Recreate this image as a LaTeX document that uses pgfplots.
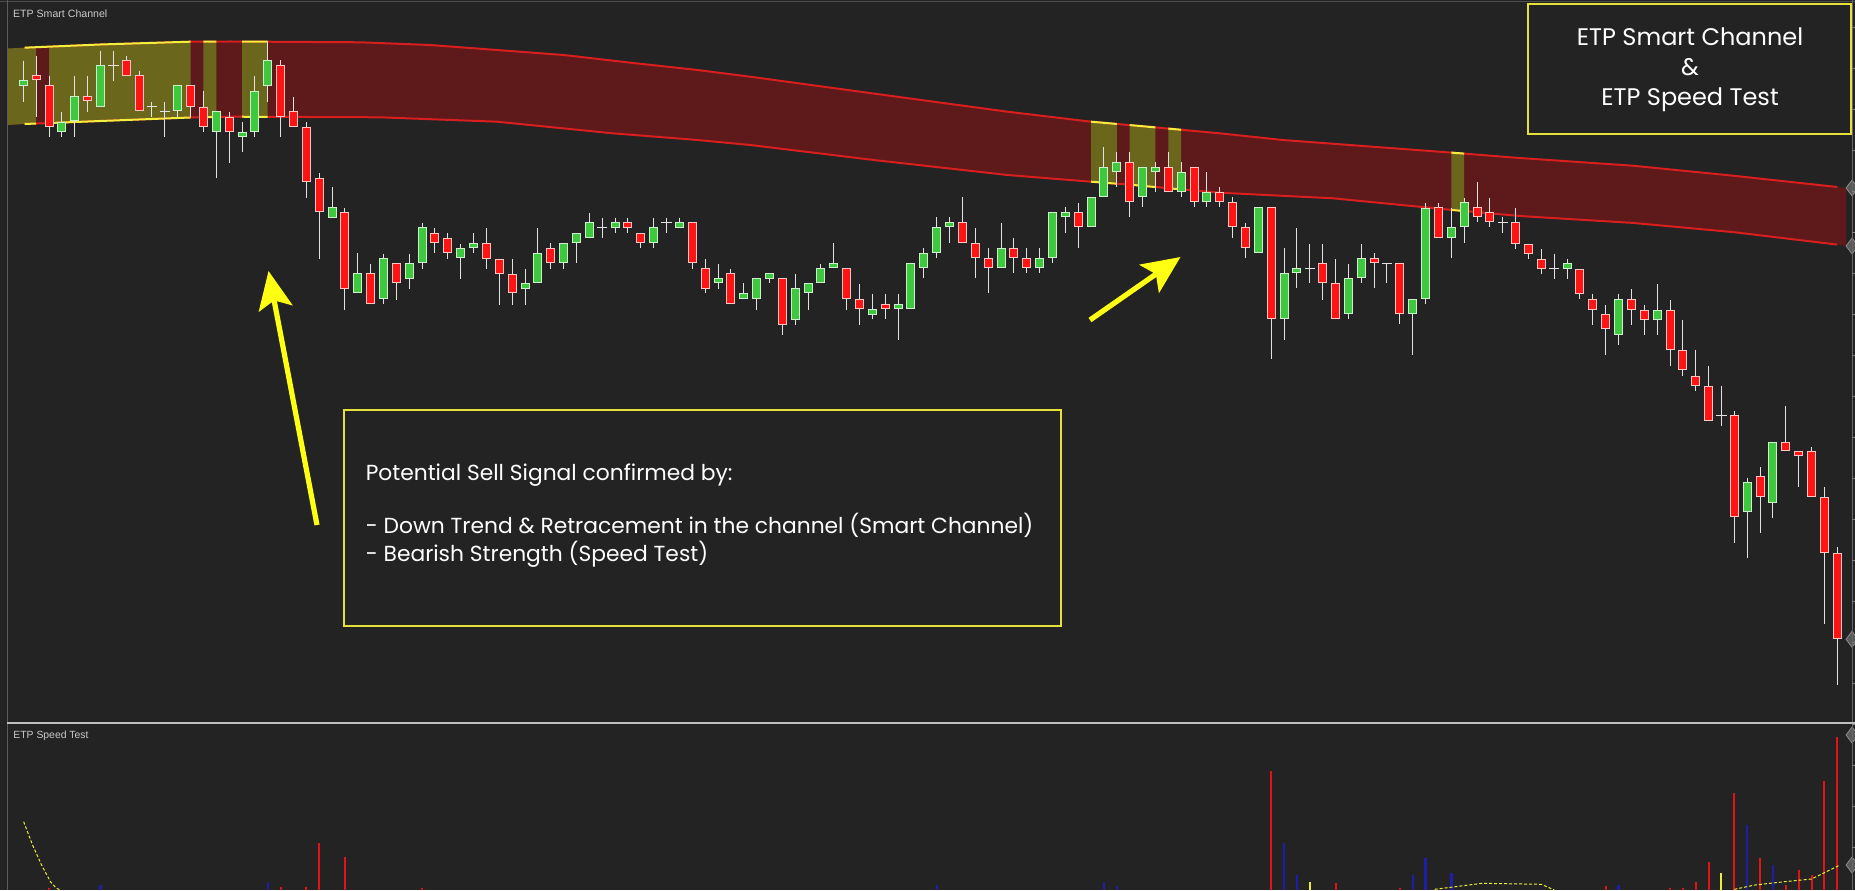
\documentclass[border=0pt]{standalone}
\usepackage{fontspec}
\setmainfont{Liberation Sans}
\newfontfamily\gothic{Poppins}
\usepackage{pgfplots}
\pgfplotsset{compat=1.18}
\usepackage{pgfplotstable}
\usepgfplotslibrary{fillbetween}
\usetikzlibrary{arrows.meta}

\definecolor{bg}{HTML}{232323}
\definecolor{candG}{HTML}{3EC83E}
\definecolor{candGb}{HTML}{CDEFCD}
\definecolor{candR}{HTML}{FF1414}
\definecolor{candRb}{HTML}{FFC4C4}
\definecolor{wick}{HTML}{E2E2E2}
\definecolor{bandR}{HTML}{5E1A1B}
\definecolor{bandY}{HTML}{6A671D}
\definecolor{lineR}{HTML}{D81E1E}
\definecolor{lineY}{HTML}{F2F03C}
\definecolor{boxY}{HTML}{E4E238}
\definecolor{spR}{HTML}{E01414}
\definecolor{spB}{HTML}{1E1EA8}
\definecolor{spY}{HTML}{ECEC3A}
\definecolor{arrowY}{HTML}{FFFF14}
\definecolor{lbl}{HTML}{CACACA}

% channel (x = candle index, y = screen level, top = 0)
\pgfplotstableread{
x y
-1.2 48.5
0.1 47.7
6.0 44.5
13.0 41.7
16.1 41.5
26.2 42.3
31.6 45
42.0 55
47.2 62.7
52.4 70
56.5 76.7
67.9 96.7
76.5 111.7
83.0 121.7
86.8 126
93.0 133.3
97.9 140
111.1 152.7
116.3 158
125.1 165.7
132.9 175.7
141.0 187
141.7 188
}\chanU
\pgfplotstableread{
x y
-1.2 125
0.1 124
6.0 121
13.0 117.5
16.1 116.7
27.7 117.3
36.8 121.7
45.8 133.3
52.4 140
56.5 145
66.1 160
76.5 175
83.0 181.7
86.3 185
89.9 189.3
93.0 192.7
101.8 198.3
111.1 210
116.3 216
125.1 222.9
132.9 232.1
141.0 244.6
141.7 246
}\chanL

% candles: x, wick top, wick bottom, body top, body bottom
\pgfplotstableread{
x hi lo bt bb
0 60.7 101.7 80.3 85.7
3 112.3 136.7 122 131.7
4 76 136.7 96.3 120.7
6 50.7 106.7 65.3 106.7
12 85.3 116.7 85.3 111.3
15 111.3 178.3 111.3 131.7
17 122 151.7 131.7 136.7
18 76 136.7 90.7 131.7
19 40.7 101.7 60.3 85.7
24 187.3 217.7 207.3 217.7
26 253.3 293.3 273.3 293.3
28 254 304.3 258.3 299.3
30 254 288.7 263.3 278.7
31 222.7 268.7 227.3 263.3
34 244 279 248.3 258.3
35 233.3 253.3 243.3 248.3
39 268.7 305 283.3 288.7
40 227.7 283.3 253.3 283.3
42 243.3 268.7 243.3 263.3
43 233.3 263.3 233.3 243.3
44 212.7 238.3 222.3 238.3
46 217.7 233.3 222.3 227.7
49 217.7 248.3 227.3 243.3
51 217.7 227.7 222.3 227.7
54 264 288.7 278.3 283.3
56 283.3 299.3 293.3 299.3
57 278.3 310 278.3 299.3
58 273.3 283.3 273.3 278.7
60 274 325 288.3 320
61 283.3 310 283.3 293.3
62 264 283.3 268.3 283.3
63 243.3 268.3 263.3 268.3
66 294 319.3 309.3 314.7
68 294 340 304.3 309.3
69 263.3 309.3 263.3 309.3
70 248.3 278.3 253.3 268.3
71 217.3 258.3 227.3 253.3
72 217.3 243.3 222.3 227.3
76 222.7 268.3 248.3 268.3
79 248.3 273.3 258.3 268.3
80 212.3 263.3 212.3 258.3
81 207.3 233.3 212.3 217.3
83 197.3 227.3 197.3 227.3
84 147.3 197.3 167.3 197.3
85 152.3 187.3 162.3 172.3
87 167.3 207.3 167.3 197.3
88 162.3 192.3 167.3 172.3
90 162.3 197.3 172.3 192.3
92 172.3 207.3 192.3 202.3
96 207.3 253.3 207.3 253.3
98 248.3 340 273.3 319.3
99 228.3 288.3 268.3 273.3
103 264 319.3 278.3 314.3
104 244 283.3 258.3 278.3
108 299.3 355 299.3 314.3
109 203.3 304.3 208.3 299.3
111 208.3 258.3 227.3 238.3
112 198.3 243.3 202.3 227.3
120 258.6 279.3 263.2 268.6
124 293.6 345.4 298.9 334.6
127 283.9 334.6 309.6 319.6
134 477.5 557.9 481.8 512.1
136 441.8 517.9 441.8 502.5
}\greenC
\pgfplotstableread{
x hi lo bt bb
1 56 116.7 75.3 80.3
2 76 136.7 85.3 126.7
5 76 111.7 96.3 101.3
8 56 75.7 60.3 75.7
9 70.7 111.3 75.3 111.3
13 85.3 116.7 85.3 106.7
14 90.7 131.7 106.7 126.7
16 112.3 163.3 116.7 131.7
20 60.3 136.7 65.3 116.7
21 96.7 126.7 111.3 126.7
22 122 198.3 126.7 182.3
23 172.7 259.3 177.7 212.3
25 208.3 310 212.3 288.7
27 264 304.3 273.3 304.3
29 263.3 300 263.3 283.3
32 227.7 253.3 233.3 243.3
33 233.3 258.7 238.3 253.3
36 227.7 268.7 243.3 258.7
37 258.7 305 258.7 273.7
38 258.7 305 273.7 293.3
41 243.3 268.7 248.3 263.3
47 217.7 233.3 222.3 227.7
48 233.3 248.3 233.3 243.3
52 222.3 268.7 222.3 263.3
53 258.7 293.3 268.3 288.7
55 268.7 304.3 273.3 304.3
59 278.3 335 278.3 324.7
64 268.3 310 268.3 299.3
65 284 325 299.3 309.3
67 294 319.3 304.3 309.3
73 197.3 243.3 222.3 243.3
74 227.7 278.3 243.3 258.3
75 248.3 293.3 258.3 268.3
77 238.3 273.3 248.3 258.3
78 248.3 273.3 258.3 268.3
82 202.7 248.3 212.3 227.3
86 152.3 217.3 162.3 202.3
89 152.3 192.3 167.3 192.3
91 167.3 207.3 167.3 202.3
93 187.3 207.3 192.3 202.3
94 197.3 238.3 202.3 227.3
95 222.7 258.3 227.3 248.3
97 207.3 359.3 207.3 319.3
101 244 300 263.3 283.3
102 259.3 319.3 283.3 319.3
105 253.3 288.3 258.3 263.3
107 263.3 324.3 263.3 314.3
110 203.3 238.3 207.3 238.3
113 182.3 222.3 207.3 217.3
114 198.3 227.3 212.3 222.3
116 207.9 248.9 222.1 243.6
117 243.6 258.6 243.6 253.6
118 248.9 273.9 258.6 268.6
121 268.6 298.9 268.6 293.6
122 293.6 325 298.9 309.6
123 305 355.4 314.3 329.3
125 289.3 325 298.9 309.6
126 305 334.6 309.6 319.6
128 300 366.1 309.6 349.6
129 320.4 375.7 349.6 370.4
130 350 391.1 375.7 385.7
131 366.1 420.7 385.7 420.7
133 411.4 542.9 415.4 516.8
135 466.8 532.9 476.4 497.1
137 406.1 451.4 441.8 451.4
138 451.4 487.1 451.4 456.4
139 447.1 497.1 451.4 497.1
140 487.1 623.9 497.1 552.5
141 547.1 684.6 552.5 639.3
}\redC
\pgfplotstableread{
x hi lo y
7 50.7 81 65.3
10 101.7 116.7 106.7
11 101.7 136.7 111.3
45 217.7 238.3 227.7
50 217.7 233.3 222.3
100 244 283.3 268.3
106 263.3 283.3 263.3
115 216.7 233.3 222.3
119 253.6 279.3 268.6
132 386.4 425.7 415.4
}\dojiC

% speed test
\pgfplotstableread{
x y
2 2
20 3.3
22 3.3
23 46.7
25 33.3
31 2
97 119
102 6.7
107 2
123 4.3
128 2
129 2
130 8.3
131 28.3
133 96.7
135 31.7
137 5
138 20
139 15
140 109
141 153.3
}\spRed
\pgfplotstableread{
x y
6 5
19 8.3
71 5
84 8.3
85 4
98 46.7
99 15
108 15
109 31.7
111 16.7
124 5
134 65
136 25
}\spBlue
\pgfplotstableread{
x y
100 8.3
132 16.7
}\spYel

\pagecolor{bg}
\begin{document}
\begin{tikzpicture}

\begin{axis}[at={(0pt,83.5pt)}, anchor=south west, scale only axis,
  width=927.5pt, height=361.5pt, xmin=-1.811, xmax=142.38, ymin=0, ymax=723,
  y dir=reverse, hide axis, clip=true,
  yline/.style={draw=lineY, fill=none, line width=1pt},
  rline/.style={draw=lineR, fill=none, line width=1pt}]
  \addplot[name path=U, draw=none] table[x=x,y=y] {\chanU};
  \addplot[name path=UU, draw=none] table[x=x,y=y] {\chanU};
  \addplot[name path=L, draw=none] table[x=x,y=y] {\chanL};
  \addplot[name path=LL, draw=none] table[x=x,y=y] {\chanL};
  \addplot[fill=bandR, draw=none] fill between[of=U and L];
  \addplot[fill=bandY, draw=none] fill between[of=U and L, soft clip={domain=-1.2:1}];
  \addplot[fill=bandY, draw=none] fill between[of=U and L, soft clip={domain=2:13}];
  \addplot[fill=bandY, draw=none] fill between[of=U and L, soft clip={domain=14:15}];
  \addplot[fill=bandY, draw=none] fill between[of=U and L, soft clip={domain=17:19}];
  \addplot[fill=bandY, draw=none] fill between[of=U and L, soft clip={domain=83:85}];
  \addplot[fill=bandY, draw=none] fill between[of=U and L, soft clip={domain=86:88}];
  \addplot[fill=bandY, draw=none] fill between[of=U and L, soft clip={domain=89:90}];
  \addplot[fill=bandY, draw=none] fill between[of=U and L, soft clip={domain=111:112}];
  % channel lines (red), then yellow parts
  \addplot[rline] fill between[of=U and UU, soft clip={domain=0.1:141}];
  \addplot[rline] fill between[of=L and LL, soft clip={domain=0.1:141}];
  \addplot[yline] fill between[of=U and UU, soft clip={domain=0.1:13}];
  \addplot[yline] fill between[of=U and UU, soft clip={domain=14:15}];
  \addplot[yline] fill between[of=U and UU, soft clip={domain=17:19}];
  \addplot[yline] fill between[of=U and UU, soft clip={domain=83:85}];
  \addplot[yline] fill between[of=U and UU, soft clip={domain=86:88}];
  \addplot[yline] fill between[of=U and UU, soft clip={domain=89:90}];
  \addplot[yline] fill between[of=U and UU, soft clip={domain=111:112}];
  \addplot[yline] fill between[of=L and LL, soft clip={domain=0.1:1}];
  \addplot[yline] fill between[of=L and LL, soft clip={domain=2:13}];
  \addplot[yline] fill between[of=L and LL, soft clip={domain=14:15}];
  \addplot[yline] fill between[of=L and LL, soft clip={domain=17:19}];
  \addplot[yline] fill between[of=L and LL, soft clip={domain=83:85}];
  \addplot[yline] fill between[of=L and LL, soft clip={domain=86:88}];
  \addplot[yline] fill between[of=L and LL, soft clip={domain=89:90}];
  \addplot[yline] fill between[of=L and LL, soft clip={domain=111:112}];
  % wicks
  \addplot[wick, line width=0.5pt, quiver={u=0, v=\thisrow{lo}-\thisrow{hi}}] table[x=x, y=hi] {\greenC};
  \addplot[wick, line width=0.5pt, quiver={u=0, v=\thisrow{lo}-\thisrow{hi}}] table[x=x, y=hi] {\redC};
  \addplot[wick, line width=0.5pt, quiver={u=0, v=\thisrow{lo}-\thisrow{hi}}] table[x=x, y=hi] {\dojiC};
  % bodies
  \addplot[candGb, line width=4.5pt, quiver={u=0, v=\thisrow{bb}-\thisrow{bt}}] table[x=x, y=bt] {\greenC};
  \addplot[candG, line width=3.5pt, quiver={u=0, v=\thisrow{bb}-\thisrow{bt}-2}] table[x=x, y expr=\thisrow{bt}+1] {\greenC};
  \addplot[candRb, line width=4.5pt, quiver={u=0, v=\thisrow{bb}-\thisrow{bt}}] table[x=x, y=bt] {\redC};
  \addplot[candR, line width=3.5pt, quiver={u=0, v=\thisrow{bb}-\thisrow{bt}-2}] table[x=x, y expr=\thisrow{bt}+1] {\redC};
  \addplot[wick, only marks, mark=-, mark size=2.6pt, mark options={line width=0.6pt}] table[x=x, y=y] {\dojiC};
  % price tags at right edge
  \addplot[only marks, mark=diamond*, mark size=4pt, mark options={fill=black!65, draw=black!45}] coordinates {(142.15,188) (142.15,246) (142.15,639.3)};
\end{axis}

\begin{axis}[at={(0pt,0pt)}, anchor=south west, scale only axis,
  width=927.5pt, height=83.5pt, xmin=-1.811, xmax=142.38, ymin=0, ymax=167,
  hide axis, clip=true]
  \addplot[ycomb, spR, line width=1pt] table[x=x,y=y] {\spRed};
  \addplot[ycomb, spB, line width=1.2pt] table[x=x,y=y] {\spBlue};
  \addplot[ycomb, spY, line width=1pt] table[x=x,y=y] {\spYel};
  \addplot[spY, line width=0.5pt, dash pattern=on 1.5pt off 1pt] coordinates {(0.03,68.3) (0.72,45) (1.42,25) (2.11,8.3) (2.57,1.7) (2.9,0)};
  \addplot[spY, line width=0.5pt, dash pattern=on 1.5pt off 1pt] coordinates {(109.7,0.7) (110.7,2.3) (113.4,6.7) (118.0,5.7) (119.0,0)};
  \addplot[spY, line width=0.5pt, dash pattern=on 1.5pt off 1pt] coordinates {(133.0,0.7) (134.6,5) (136.9,8.3) (139.0,11) (141.1,24.3)};
  \addplot[only marks, mark=diamond*, mark size=4pt, mark options={fill=black!65, draw=black!45}] coordinates {(142.15,155) (142.15,25)};
\end{axis}

% frame lines
\draw[black!70, line width=0.8pt] (0,444.2pt) -- (927.5pt,444.2pt);
\draw[black!65, line width=0.7pt] (3.6pt,0) -- (3.6pt,445pt);
\draw[black!60, line width=0.5pt] (926pt,0) -- (926pt,445pt);
\foreach \k in {0,...,20} {\draw[black!50, line width=0.4pt] (926pt,{(890-27-41*\k)*0.5pt}) -- (927.5pt,{(890-27-41*\k)*0.5pt});}
\draw[black!25, line width=0.8pt] (3.6pt,83.5pt) -- (927.5pt,83.5pt);

% panel labels
\node[anchor=west, text=lbl, inner sep=0pt, font=\fontsize{5.3}{6}\selectfont] at (6.35pt,438.1pt) {ETP Smart Channel};
\node[anchor=west, text=lbl, inner sep=0pt, font=\fontsize{5.2}{6}\selectfont] at (6.5pt,77.25pt) {ETP Speed Test};

% top-right box
\draw[boxY, line width=0.8pt, fill=bg] (764pt,443pt) rectangle (925.5pt,378pt);
\node[anchor=base, text=white, inner sep=0pt, font=\gothic\fontsize{12}{14}\selectfont] at (845pt,422pt) {ETP Smart Channel};
\node[anchor=base, text=white, inner sep=0pt, font=\gothic\fontsize{12}{14}\selectfont] at (845pt,407pt) {\&};
\node[anchor=base, text=white, inner sep=0pt, font=\gothic\fontsize{12}{14}\selectfont] at (845pt,392pt) {ETP Speed Test};

% annotation box
\draw[boxY, line width=0.8pt, fill=bg] (172pt,240pt) rectangle (530.5pt,132pt);
\node[anchor=base west, text=white, inner sep=0pt, font=\gothic\fontsize{10.9}{12}\selectfont] at (182.7pt,205pt) {Potential Sell Signal confirmed by:};
\node[anchor=base west, text=white, inner sep=0pt, font=\gothic\fontsize{10.9}{12}\selectfont] at (182.7pt,178.35pt) {- Down Trend \& Retracement in the channel (Smart Channel)};
\node[anchor=base west, text=white, inner sep=0pt, font=\gothic\fontsize{10.9}{12}\selectfont] at (182.7pt,164.5pt) {- Bearish Strength (Speed Test)};

% arrows
\draw[arrowY, line width=2.6pt, -{Stealth[length=19pt, width=17pt, inset=4pt]}] (158.5pt,182.5pt) -- (134.25pt,309.5pt);
\draw[arrowY, line width=2.6pt, -{Stealth[length=19pt, width=17pt, inset=4pt]}] (545pt,285pt) -- (590.25pt,316.5pt);

\pgfresetboundingbox
\path[use as bounding box] (0,0) rectangle (927.5pt,445pt);
\end{tikzpicture}
\end{document}
